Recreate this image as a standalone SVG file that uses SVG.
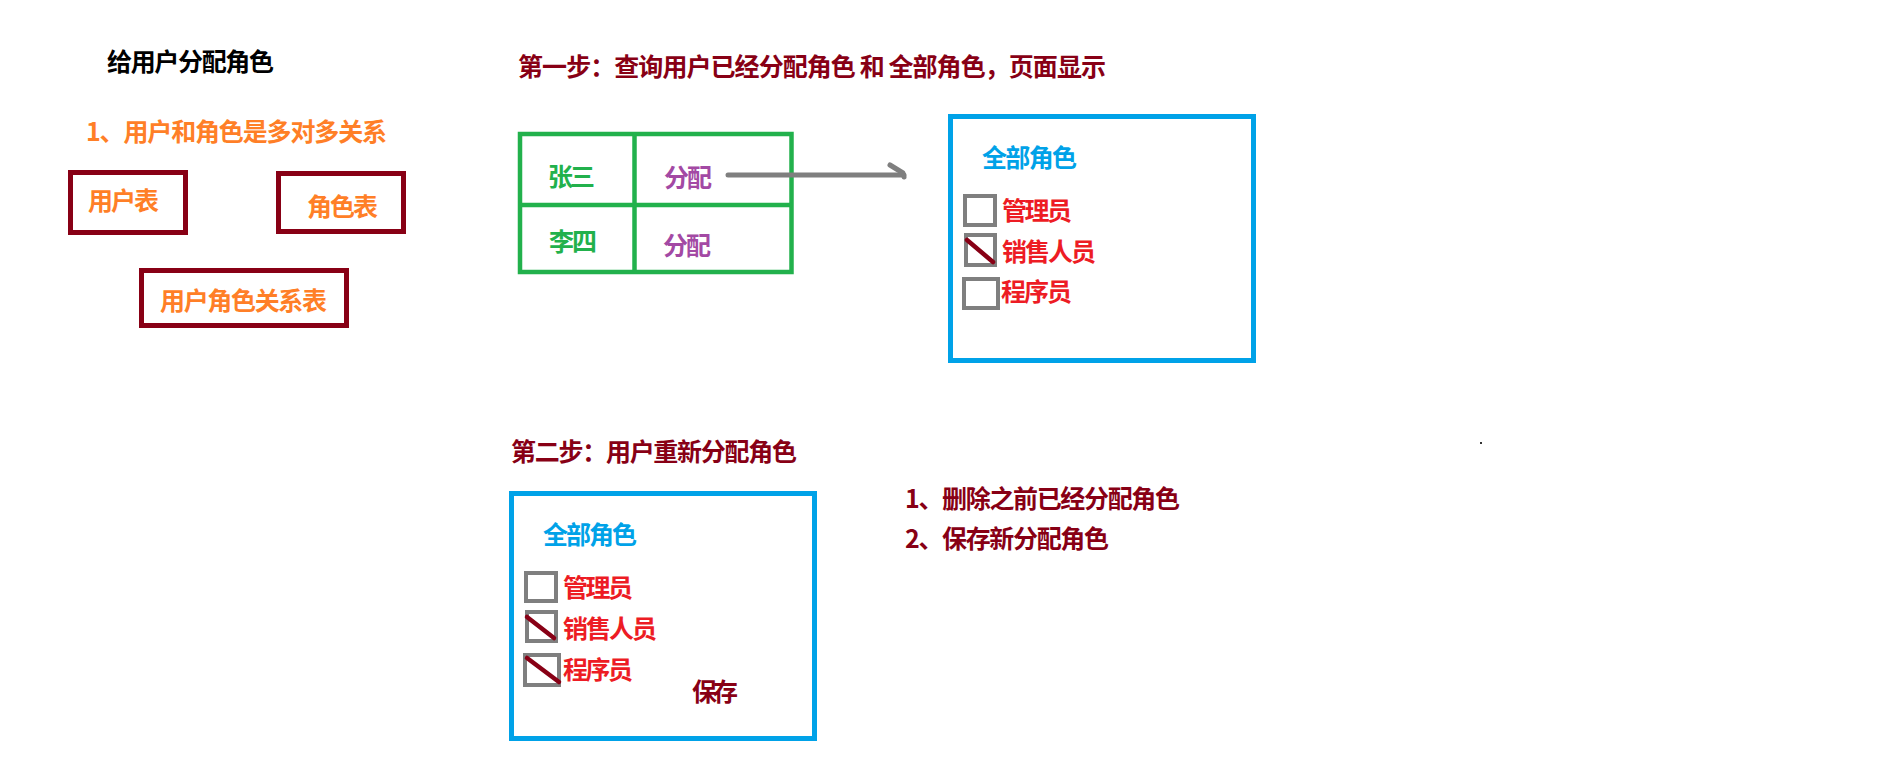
<svg xmlns="http://www.w3.org/2000/svg" width="1901" height="770" viewBox="0 0 1901 770">
  <style>
    text { font-family: "Noto Sans CJK SC", "Microsoft YaHei", sans-serif; font-weight: bold; font-size: 25px; }
    .dark { fill: #880015; }
    .orange { fill: #FF7F27; }
    .green { fill: #22B14C; }
    .purple { fill: #A349A4; }
    .blue { fill: #00A2E8; }
    .red { fill: #ED1C24; }
    .black { fill: #000000; }
    .tbl { fill: none; stroke: #880015; stroke-width: 5; }
    .panel { fill: none; stroke: #00A2E8; stroke-width: 5; }
    .grid { fill: none; stroke: #22B14C; stroke-width: 4.5; }
    .chk { fill: none; stroke: #7F7F7F; stroke-width: 4; }
    .tick { stroke: #880015; stroke-width: 4.5; stroke-linecap: round; }
    .link { fill: none; stroke: #7F7F7F; stroke-width: 5; stroke-linecap: round; stroke-linejoin: round; }
  </style>
  <rect width="1901" height="770" fill="#ffffff"/>

  <!-- heading and the many-to-many note -->
  <g id="heading">
    <text class="black" x="107" y="71" textLength="167">给用户分配角色</text>
    <text class="orange" x="86" y="141" textLength="301">1、用户和角色是多对多关系</text>
  </g>

  <!-- data tables -->
  <g id="user-table">
    <rect class="tbl" x="70.5" y="172.5" width="115" height="60"/>
    <text class="orange" x="88" y="210" textLength="71">用户表</text>
  </g>
  <g id="role-table">
    <rect class="tbl" x="278.5" y="173.5" width="125" height="58"/>
    <text class="orange" x="307" y="216" textLength="71">角色表</text>
  </g>
  <g id="user-role-table">
    <rect class="tbl" x="141.5" y="270.5" width="205" height="55"/>
    <text class="orange" x="160" y="310" textLength="167">用户角色关系表</text>
  </g>

  <!-- step 1 -->
  <g id="step1-title">
    <text class="dark" x="518" y="76" textLength="588">第一步：查询用户已经分配角色 和 全部角色，页面显示</text>
  </g>

  <g id="user-list">
    <rect class="grid" x="520" y="134" width="271.5" height="138"/>
    <line class="grid" x1="634.5" y1="134" x2="634.5" y2="272"/>
    <line class="grid" x1="520" y1="205" x2="791.5" y2="205"/>
    <text class="green" x="548" y="186" textLength="47">张三</text>
    <text class="purple" x="664" y="187" textLength="48">分配</text>
    <text class="green" x="549" y="251" textLength="48">李四</text>
    <text class="purple" x="663" y="255" textLength="48">分配</text>
  </g>

  <g id="connectors">
    <path class="link" d="M 728 175 L 904 175"/>
    <path class="link" d="M 890 165 L 903 173 L 904 177"/>
  </g>

  <g id="role-panel-1">
    <rect class="panel" x="950.5" y="116.5" width="303" height="244"/>
    <text class="blue" x="982" y="167" textLength="95">全部角色</text>
    <rect class="chk" x="965" y="196" width="30" height="29"/>
    <text class="red" x="1002" y="220" textLength="70">管理员</text>
    <rect class="chk" x="966" y="235" width="29" height="30"/>
    <line class="tick" x1="967" y1="240" x2="993" y2="262"/>
    <text class="red" x="1002" y="261" textLength="94">销售人员</text>
    <rect class="chk" x="964" y="279" width="34" height="29"/>
    <text class="red" x="1001" y="301" textLength="71">程序员</text>
  </g>

  <!-- step 2 -->
  <g id="step2-title">
    <text class="dark" x="511" y="461" textLength="286">第二步：用户重新分配角色</text>
  </g>

  <g id="role-panel-2">
    <rect class="panel" x="511.5" y="493.5" width="303" height="245"/>
    <text class="blue" x="543" y="544" textLength="94">全部角色</text>
    <rect class="chk" x="526" y="573" width="30" height="28"/>
    <text class="red" x="563" y="597" textLength="70">管理员</text>
    <rect class="chk" x="527" y="612" width="29" height="29"/>
    <line class="tick" x1="527" y1="617" x2="554" y2="638"/>
    <text class="red" x="563" y="638" textLength="94">销售人员</text>
    <rect class="chk" x="525" y="655" width="34" height="30"/>
    <line class="tick" x1="527" y1="658" x2="559" y2="682"/>
    <text class="red" x="563" y="679" textLength="70">程序员</text>
    <text class="dark" x="692" y="701" textLength="46">保存</text>
  </g>

  <g id="step2-notes">
    <text class="dark" x="905" y="508" textLength="275">1、删除之前已经分配角色</text>
    <text class="dark" x="905" y="548" textLength="204">2、保存新分配角色</text>
  </g>

  <rect x="1480" y="442" width="2" height="2" fill="#333333"/>
</svg>
